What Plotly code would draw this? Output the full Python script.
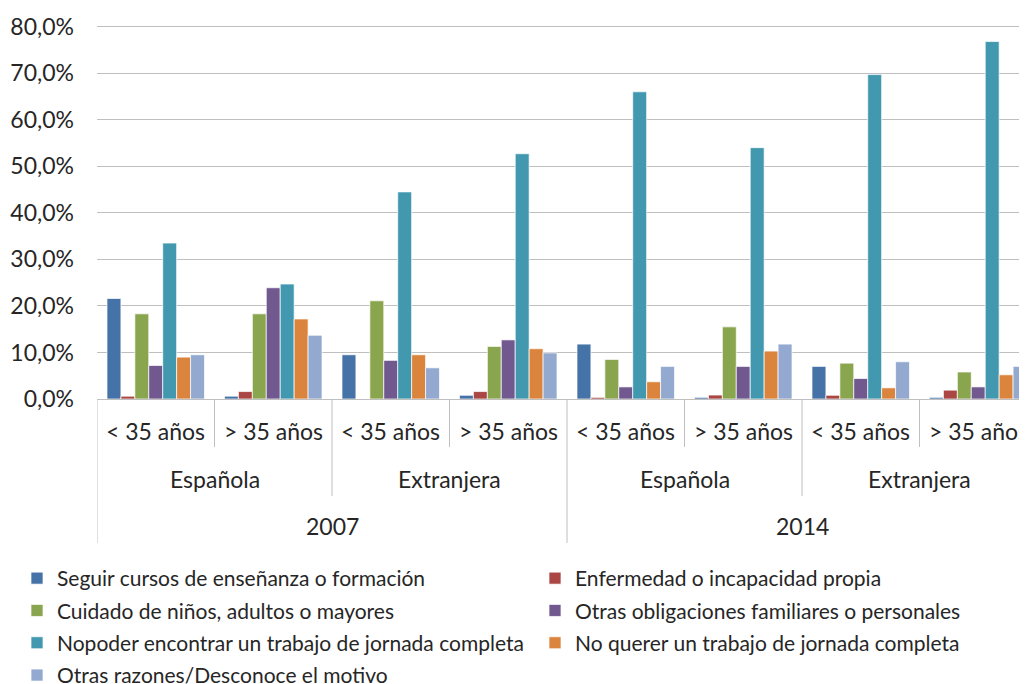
import plotly.graph_objects as go

# categories (three-level axis: year / nationality / age)
years = ["2007", "2014"]
nationalities = ["Española", "Extranjera"]
ages = ["< 35 años", "> 35 años"]

series_names = [
    "Seguir cursos de enseñanza o formación",
    "Enfermedad o incapacidad propia",
    "Cuidado de niños, adultos o mayores",
    "Otras obligaciones familiares o personales",
    "Nopoder encontrar un trabajo de jornada completa",
    "No querer un trabajo de jornada completa",
    "Otras razones/Desconoce el motivo",
]

# values in %, one entry per age group (2007 Esp <35, >35, Ext <35, >35, 2014 ...)
seguir_cursos = [21.6, 0.6, 9.5, 0.8, 11.8, 0.35, 7.0, 0.35]
enfermedad = [0.6, 1.6, 0.0, 1.6, 0.35, 0.85, 0.8, 1.9]
cuidado = [18.3, 18.3, 21.1, 11.3, 8.5, 15.5, 7.7, 5.8]
otras_obligaciones = [7.2, 23.9, 8.3, 12.7, 2.6, 7.0, 4.4, 2.6]
no_poder = [33.5, 24.7, 44.5, 52.7, 66.0, 54.0, 69.7, 76.8]
no_querer = [9.0, 17.2, 9.5, 10.8, 3.7, 10.3, 2.4, 5.2]
otras_razones = [9.5, 13.7, 6.7, 9.9, 7.0, 11.8, 8.0, 7.0]

y_ticks = [0, 10, 20, 30, 40, 50, 60, 70, 80]
y_tick_labels = ["0,0%", "10,0%", "20,0%", "30,0%", "40,0%", "50,0%", "60,0%", "70,0%", "80,0%"]

series_values = [seguir_cursos, enfermedad, cuidado, otras_obligaciones,
                 no_poder, no_querer, otras_razones]
colors = ["#4572A7", "#AA4643", "#89A54E", "#71588F", "#4198AF", "#DB843D", "#93A9CF"]

FONT = "Lato"
TEXT = "#262626"
GRID = "#BFBFBF"

# the page body has an 8px margin, so the figure is a bit smaller than the window
OFF = 8
W, H = 1027 - OFF, 684 - OFF
ML, MT, MB = 97 - OFF, 22 - OFF, 285
PLOT_H = H - MT - MB
PLOT_BOTTOM = 399  # page pixel of 0 %


def py(pixel_y):
    """page pixel row -> paper y"""
    return (PLOT_BOTTOM - pixel_y) / PLOT_H


def px_(pixel_x):
    """page pixel column -> paper x"""
    return (pixel_x - 97) / (W - ML)


n_groups = len(years) * len(nationalities) * len(ages)
x_pos = list(range(n_groups))

fig = go.Figure()
for i, (name, vals, col) in enumerate(zip(series_names, series_values, colors)):
    fig.add_trace(
        go.Bar(
            x=x_pos,
            y=vals,
            name=name,
            legend="legend" if i % 2 == 0 else "legend2",
            legendgroup=f"g{i}",
            marker=dict(color=col, line=dict(color="rgba(255,255,255,0.7)", width=1)),
        )
    )

# multi-level category axis drawn by hand
shapes = []
annotations = []
lab_font = dict(size=23, color=TEXT, family=FONT)
for i in range(n_groups):
    annotations.append(dict(x=i, y=py(431), xref="x", yref="paper", text=ages[i % 2],
                            yanchor="middle", showarrow=False, font=lab_font))
for j in range(len(years) * len(nationalities)):
    annotations.append(dict(x=2 * j + 0.5, y=py(479), xref="x", yref="paper",
                            text=nationalities[j % 2], yanchor="middle",
                            showarrow=False, font=lab_font))
for k, yr in enumerate(years):
    annotations.append(dict(x=4 * k + 1.5, y=py(526), xref="x", yref="paper", text=yr,
                            yanchor="middle", showarrow=False, font=lab_font))

for b in range(n_groups + 1):
    edge = b - 0.5
    if b % 4 == 0:
        bottom = 543
    elif b % 2 == 0:
        bottom = 496
    else:
        bottom = 447
    shapes.append(dict(type="line", xref="x", yref="paper", x0=edge, x1=edge,
                       y0=0, y1=py(bottom), line=dict(color=GRID, width=1)))

leg_common = dict(
    orientation="v",
    xanchor="left",
    yanchor="top",
    y=py(558),
    tracegroupgap=2,
    font=dict(size=21, color=TEXT, family=FONT),
    bgcolor="rgba(0,0,0,0)",
)

fig.update_layout(
    width=W,
    height=H,
    margin=dict(l=ML, r=0, t=MT, b=MB, autoexpand=False),
    paper_bgcolor="white",
    plot_bgcolor="white",
    barmode="group",
    bargap=0.17,
    bargroupgap=0,
    shapes=shapes,
    annotations=annotations,
    font=dict(family=FONT, color=TEXT),
    legend=dict(x=px_(17), **leg_common),
    legend2=dict(x=px_(535), **leg_common),
)
fig.update_xaxes(
    range=[-0.5, n_groups - 0.5 - 10 / 117.5],
    showticklabels=False,
    showgrid=False,
    zeroline=False,
    showline=True,
    linecolor=GRID,
    linewidth=1,
    fixedrange=True,
)
fig.update_yaxes(
    range=[0, 81],
    tickvals=y_ticks,
    ticktext=y_tick_labels,
    showgrid=True,
    gridcolor=GRID,
    gridwidth=1,
    zeroline=False,
    ticks="",
    ticklabelstandoff=22,
    tickfont=dict(size=23, color=TEXT, family=FONT),
    fixedrange=True,
)

fig.write_html("out.html")
